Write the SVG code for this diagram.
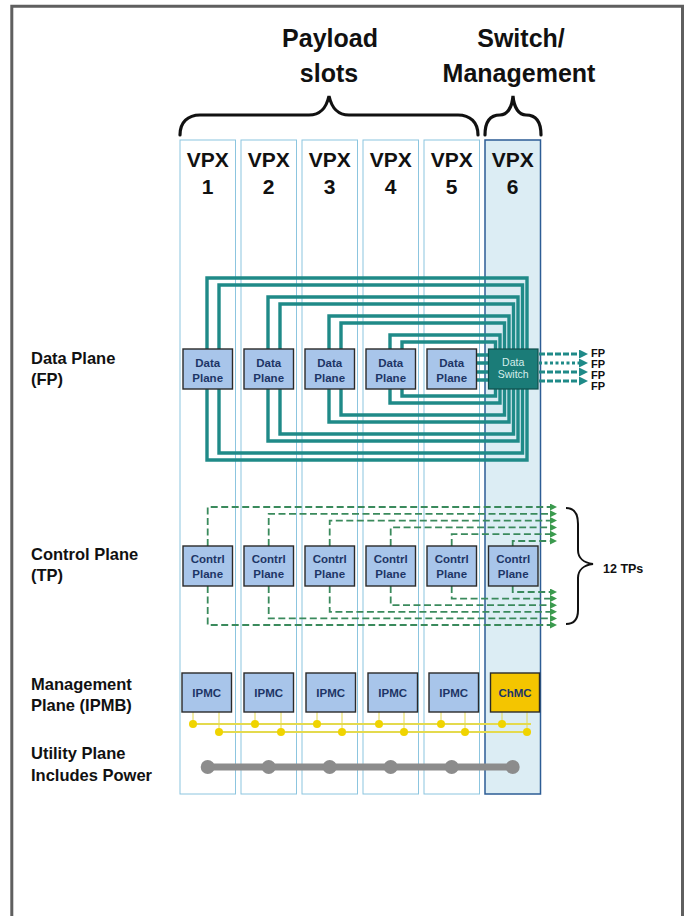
<svg xmlns="http://www.w3.org/2000/svg" width="686" height="916" viewBox="0 0 686 916">
<defs>
<marker id="tpArrow" markerUnits="userSpaceOnUse" markerWidth="8" markerHeight="7" refX="0" refY="3.5" orient="auto"><path d="M0,0 L7,3.5 L0,7 z" fill="#3b9a4e"/></marker>
<marker id="fpArrow" markerUnits="userSpaceOnUse" markerWidth="10" markerHeight="9" refX="0" refY="4.5" orient="auto"><path d="M0,0 L9,4.5 L0,9 z" fill="#1f8a88"/></marker>
</defs>
<style>
text{font-family:"Liberation Sans",Arial,Helvetica,sans-serif}
.lbl{font-weight:bold;font-size:16.5px;fill:#111}
.hdr{font-weight:bold;font-size:25px;fill:#111;text-anchor:middle}
.vpx{font-weight:bold;font-size:21px;fill:#111;text-anchor:middle}
.col{fill:#fff;stroke:#8cc5df;stroke-width:1}
.col6{fill:#dcedf4;stroke:#2d5c95;stroke-width:1.5}
.box{fill:#a8c5ea;stroke:#2a2a2a;stroke-width:1.4}
.bt{font-weight:bold;font-size:11.5px;fill:#1d3566;text-anchor:middle}
.sw{fill:#1b7c78;stroke:#0f4f4c;stroke-width:1.2}
.swt{font-size:10.5px;fill:#d6eeec;text-anchor:middle}
.dp{fill:none;stroke:#1f8a88;stroke-width:3.4}
.fp{fill:none;stroke:#1f8a88;stroke-width:3;stroke-dasharray:6 2}
.fpd{fill:none;stroke:#1f8a88;stroke-width:3;stroke-dasharray:3 2.5}
.fpt{font-weight:bold;font-size:11px;fill:#111}
.tp{fill:none;stroke:#3a8a5c;stroke-width:1.8;stroke-dasharray:7 3.5}
.brace{fill:none;stroke:#111;stroke-width:3.2;stroke-linecap:round}
.ylw{fill:none;stroke:#e4da4e;stroke-width:1.8}
.ylv{fill:none;stroke:#e4da4e;stroke-width:1}
.yd{fill:#f0d400}
.gry{fill:none;stroke:#8c8c8c;stroke-width:7}
.gd{fill:#8c8c8c}
</style>
<rect width="686" height="916" fill="#fff"/>
<path d="M11.8,916 V6.2 H682.5 V916" fill="none" stroke="#5f5f5f" stroke-width="3"/>

<g id="headers">
<text class="hdr" x="330" y="47">Payload</text>
<text class="hdr" x="329" y="82">slots</text>
<text class="hdr" x="521" y="47">Switch/</text>
<text class="hdr" x="519" y="82">Management</text>
<path class="brace" d="M180,135 C180,122 188,115 200,115 L309,115 C320,115 326,109 329,96 C332,109 338,115 349,115 L458,115 C470,115 478,122 478,135"/>
<path class="brace" d="M485,135 C485,121 491,115 500,115 C507,115 512,108 513,96 C514,108 519,115 526,115 C535,115 541,121 541,135"/>
</g>

<g id="slots">
<g id="slot1"><rect class="col" x="180" y="140" width="55.5" height="654"/><text class="vpx" x="207.7" y="167">VPX</text><text class="vpx" x="207.7" y="194">1</text></g>
<g id="slot2"><rect class="col" x="241" y="140" width="55.5" height="654"/><text class="vpx" x="268.7" y="167">VPX</text><text class="vpx" x="268.7" y="194">2</text></g>
<g id="slot3"><rect class="col" x="302" y="140" width="55.5" height="654"/><text class="vpx" x="329.7" y="167">VPX</text><text class="vpx" x="329.7" y="194">3</text></g>
<g id="slot4"><rect class="col" x="363" y="140" width="55.5" height="654"/><text class="vpx" x="390.7" y="167">VPX</text><text class="vpx" x="390.7" y="194">4</text></g>
<g id="slot5"><rect class="col" x="424" y="140" width="55.5" height="654"/><text class="vpx" x="451.7" y="167">VPX</text><text class="vpx" x="451.7" y="194">5</text></g>
<g id="slot6"><rect class="col6" x="485" y="140" width="55.5" height="654"/><text class="vpx" x="512.7" y="167">VPX</text><text class="vpx" x="512.7" y="194">6</text></g>
</g>

<g id="labels">
<text class="lbl" x="31" y="364">Data Plane</text>
<text class="lbl" x="31" y="385">(FP)</text>
<text class="lbl" x="31" y="560">Control Plane</text>
<text class="lbl" x="31" y="581">(TP)</text>
<text class="lbl" x="31" y="690">Management</text>
<text class="lbl" x="31" y="711">Plane (IPMB)</text>
<text class="lbl" x="31" y="759">Utility Plane</text>
<text class="lbl" x="31" y="781">Includes Power</text>
</g>

<g id="connectors">
<g id="fp-links">
<path class="dp" d="M207,349V278H527V349"/>
<path class="dp" d="M219,349V285H522.5V349"/>
<path class="dp" d="M268,349V297H518V349"/>
<path class="dp" d="M280,349V304H513.5V349"/>
<path class="dp" d="M329,349V316H509V349"/>
<path class="dp" d="M341,349V323H504.5V349"/>
<path class="dp" d="M390,349V335H500V349"/>
<path class="dp" d="M402,349V342H495.5V349"/>
<path class="dp" d="M207,389V460H527V389"/>
<path class="dp" d="M219,389V453H522.5V389"/>
<path class="dp" d="M268,389V441H518V389"/>
<path class="dp" d="M280,389V434H513.5V389"/>
<path class="dp" d="M329,389V422H509V389"/>
<path class="dp" d="M341,389V415H504.5V389"/>
<path class="dp" d="M390,389V403H500V389"/>
<path class="dp" d="M402,389V396H495.5V389"/>
<path class="dp" d="M476,355H489M476,363H489M476,372H489M476,380H489"/>
<path class="fp" d="M539,354H579" marker-end="url(#fpArrow)"/>
<path class="fpd" d="M539,363H579" marker-end="url(#fpArrow)"/>
<path class="fp" d="M539,372H579" marker-end="url(#fpArrow)"/>
<path class="fp" d="M539,381H579" marker-end="url(#fpArrow)"/>
</g>
<g id="tp-links">
<path class="tp" d="M207.7,546V507H550" marker-end="url(#tpArrow)"/>
<path class="tp" d="M268.7,546V513.8H550" marker-end="url(#tpArrow)"/>
<path class="tp" d="M329.7,546V520.6H550" marker-end="url(#tpArrow)"/>
<path class="tp" d="M390.7,546V527.4H550" marker-end="url(#tpArrow)"/>
<path class="tp" d="M451.7,546V534.2H550" marker-end="url(#tpArrow)"/>
<path class="tp" d="M512.7,546V541H550" marker-end="url(#tpArrow)"/>
<path class="tp" d="M207.7,586V625H550" marker-end="url(#tpArrow)"/>
<path class="tp" d="M268.7,586V618.4H550" marker-end="url(#tpArrow)"/>
<path class="tp" d="M329.7,586V611.8H550" marker-end="url(#tpArrow)"/>
<path class="tp" d="M390.7,586V605.2H550" marker-end="url(#tpArrow)"/>
<path class="tp" d="M451.7,586V598.6H550" marker-end="url(#tpArrow)"/>
<path class="tp" d="M512.7,586V592H550" marker-end="url(#tpArrow)"/>
</g>
<g id="ipmb">
<path class="ylw" d="M193,724H531M219,732H531"/>
<path class="ylv" d="M193,712V724M219,712V732M255,712V724M281,712V732M317,712V724M342,712V732M379,712V724M404,712V732M441,712V724M465,712V732M502,712V724M527,712V732"/>
<circle class="yd" cx="193" cy="724" r="4"/><circle class="yd" cx="219" cy="732" r="4"/>
<circle class="yd" cx="255" cy="724" r="4"/><circle class="yd" cx="281" cy="732" r="4"/>
<circle class="yd" cx="317" cy="724" r="4"/><circle class="yd" cx="342" cy="732" r="4"/>
<circle class="yd" cx="379" cy="724" r="4"/><circle class="yd" cx="404" cy="732" r="4"/>
<circle class="yd" cx="441" cy="724" r="4"/><circle class="yd" cx="465" cy="732" r="4"/>
<circle class="yd" cx="502" cy="724" r="4"/><circle class="yd" cx="527" cy="732" r="4"/>
</g>
<g id="power">
<path class="gry" d="M207.7,767H512.7"/>
<circle class="gd" cx="207.7" cy="767" r="7"/><circle class="gd" cx="268.7" cy="767" r="7"/><circle class="gd" cx="329.7" cy="767" r="7"/><circle class="gd" cx="390.7" cy="767" r="7"/><circle class="gd" cx="451.7" cy="767" r="7"/><circle class="gd" cx="512.7" cy="767" r="7"/>
</g>
</g>

<g id="fp-labels">
<text class="fpt" x="591" y="357">FP</text>
<text class="fpt" x="591" y="368">FP</text>
<text class="fpt" x="591" y="379">FP</text>
<text class="fpt" x="591" y="390">FP</text>
</g>
<g id="tp-brace">
<path fill="none" stroke="#111" stroke-width="2" d="M566,508 C574,508 578,514 578,524 L578,550 C578,558 584,563 593,564 C584,565 578,570 578,578 L578,610 C578,619 574,624 566,624"/>
<text x="603" y="573" font-weight="bold" font-size="12.5" fill="#111">12 TPs</text>
</g>

<g id="dp1"><rect class="box" x="183" y="349" width="49.5" height="40"/><text class="bt" x="207.7" y="366.5">Data</text><text class="bt" x="207.7" y="381.5">Plane</text></g>
<g id="dp2"><rect class="box" x="244" y="349" width="49.5" height="40"/><text class="bt" x="268.7" y="366.5">Data</text><text class="bt" x="268.7" y="381.5">Plane</text></g>
<g id="dp3"><rect class="box" x="305" y="349" width="49.5" height="40"/><text class="bt" x="329.7" y="366.5">Data</text><text class="bt" x="329.7" y="381.5">Plane</text></g>
<g id="dp4"><rect class="box" x="366" y="349" width="49.5" height="40"/><text class="bt" x="390.7" y="366.5">Data</text><text class="bt" x="390.7" y="381.5">Plane</text></g>
<g id="dp5"><rect class="box" x="427" y="349" width="49.5" height="40"/><text class="bt" x="451.7" y="366.5">Data</text><text class="bt" x="451.7" y="381.5">Plane</text></g>
<g id="switch"><rect class="sw" x="488.5" y="349" width="49.5" height="40"/><text class="swt" x="513.2" y="366">Data</text><text class="swt" x="513.2" y="378">Switch</text></g>

<g id="cp1"><rect class="box" x="183" y="546" width="49.5" height="40"/><text class="bt" x="207.7" y="563">Contrl</text><text class="bt" x="207.7" y="578">Plane</text></g>
<g id="cp2"><rect class="box" x="244" y="546" width="49.5" height="40"/><text class="bt" x="268.7" y="563">Contrl</text><text class="bt" x="268.7" y="578">Plane</text></g>
<g id="cp3"><rect class="box" x="305" y="546" width="49.5" height="40"/><text class="bt" x="329.7" y="563">Contrl</text><text class="bt" x="329.7" y="578">Plane</text></g>
<g id="cp4"><rect class="box" x="366" y="546" width="49.5" height="40"/><text class="bt" x="390.7" y="563">Contrl</text><text class="bt" x="390.7" y="578">Plane</text></g>
<g id="cp5"><rect class="box" x="427" y="546" width="49.5" height="40"/><text class="bt" x="451.7" y="563">Contrl</text><text class="bt" x="451.7" y="578">Plane</text></g>
<g id="cp6"><rect class="box" x="488.5" y="546" width="49.5" height="40"/><text class="bt" x="513.2" y="563">Contrl</text><text class="bt" x="513.2" y="578">Plane</text></g>

<g id="ipmc1"><rect class="box" x="182" y="673" width="49.5" height="39"/><text class="bt" x="206.7" y="697" font-size="12">IPMC</text></g>
<g id="ipmc2"><rect class="box" x="244" y="673" width="49.5" height="39"/><text class="bt" x="268.7" y="697" font-size="12">IPMC</text></g>
<g id="ipmc3"><rect class="box" x="306" y="673" width="49.5" height="39"/><text class="bt" x="330.7" y="697" font-size="12">IPMC</text></g>
<g id="ipmc4"><rect class="box" x="368" y="673" width="49.5" height="39"/><text class="bt" x="392.7" y="697" font-size="12">IPMC</text></g>
<g id="ipmc5"><rect class="box" x="429" y="673" width="49.5" height="39"/><text class="bt" x="453.7" y="697" font-size="12">IPMC</text></g>
<g id="chmc"><rect x="490.5" y="673" width="49" height="39" fill="#f4c500" stroke="#2a2a2a" stroke-width="1.4"/><text class="bt" x="515" y="697" font-size="12" fill="#3a3010">ChMC</text></g>
</svg>
